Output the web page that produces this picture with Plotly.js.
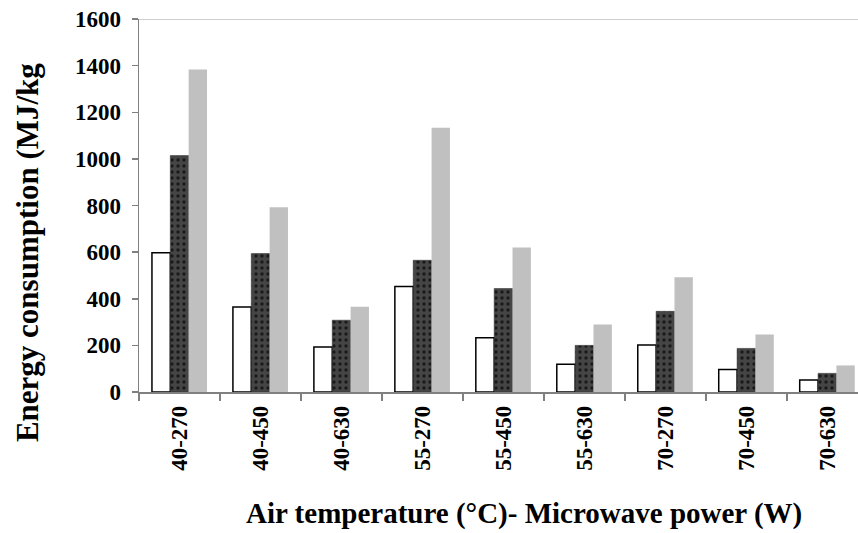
<!DOCTYPE html>
<html>
<head>
<meta charset="utf-8">
<script src="https://cdn.plot.ly/plotly-3.0.1.min.js"></script>
<style>html,body{margin:0;padding:0;background:#fff;}#chart{width:858px;height:533px;}</style>
</head>
<body>
<div id="chart"></div>
<script>
const categories = ["40-270","40-450","40-630","55-270","55-450","55-630","70-270","70-450","70-630"];
const seriesWhite = [597, 365, 193, 453, 233, 119, 202, 96, 52];
const seriesDark  = [1014, 594, 308, 565, 444, 200, 346, 187, 80];
const seriesGray  = [1383, 793, 366, 1133, 620, 290, 492, 247, 114];
const yTicks = [0, 200, 400, 600, 800, 1000, 1200, 1400, 1600];
const xTitle = 'Air temperature (°C)- Microwave power (W)';
const yTitle = 'Energy consumption (MJ/kg';

const font = "'Liberation Serif', 'Times New Roman', serif";

const traces = [
  {type:'bar', x:categories, y:seriesWhite, name:'A',
   marker:{color:'#ffffff', line:{color:'#000000', width:1.5}}},
  {type:'bar', x:categories, y:seriesDark, name:'B',
   marker:{color:'#404040', line:{color:'#2a2a2a', width:0.5},
           pattern:{shape:'.', fgcolor:'#1a1a1a', bgcolor:'#454545', size:6, solidity:0.25}}},
  {type:'bar', x:categories, y:seriesGray, name:'C',
   marker:{color:'#c0c0c0', line:{width:0}}}
];

const layout = {
  width:858, height:533,
  margin:{l:139, r:0, t:19, b:141},
  paper_bgcolor:'#ffffff', plot_bgcolor:'#ffffff',
  showlegend:false,
  barmode:'group', bargap:0.32, bargroupgap:0,
  font:{family:font, color:'#000', size:20},
  xaxis:{
    type:'category', range:[-0.5, 8.38],
    showline:true, linecolor:'#808080', linewidth:1.5,
    ticks:'outside', tickson:'boundaries', ticklen:7, tickcolor:'#808080', tickwidth:1.5,
    tickangle:-90, tickfont:{family:font, size:23, color:'#000', weight:'bold'},
    ticklabelstandoff:3,
    showgrid:false, zeroline:false
  },
  yaxis:{
    range:[0,1600], tickvals:yTicks, ticktext:yTicks.map(String),
    showline:true, linecolor:'#808080', linewidth:1.5,
    ticks:'outside', ticklen:6, tickcolor:'#808080', tickwidth:1.5,
    tickfont:{family:font, size:23, color:'#000', weight:'bold'},
    ticklabelstandoff:6,
    showgrid:false, zeroline:false
  },
  annotations:[
    {text:xTitle, xref:'paper', yref:'paper', x:0.5355, y:-0.327, xanchor:'center', yanchor:'middle',
     showarrow:false, font:{family:font, size:29, color:'#000', weight:'bold'}},
    {text:yTitle, xref:'paper', yref:'paper', x:-0.1558, y:0.375, xanchor:'center', yanchor:'middle',
     textangle:-90, showarrow:false, font:{family:font, size:31, color:'#000', weight:'bold'}}
  ],
  shapes:[{type:'line', xref:'paper', yref:'y', x0:0, x1:1, y0:1600, y1:1600, line:{color:'#a0a0a0', width:1}}]
};

Plotly.newPlot('chart', traces, layout, {displayModeBar:false, staticPlot:true});
</script>
</body>
</html>
